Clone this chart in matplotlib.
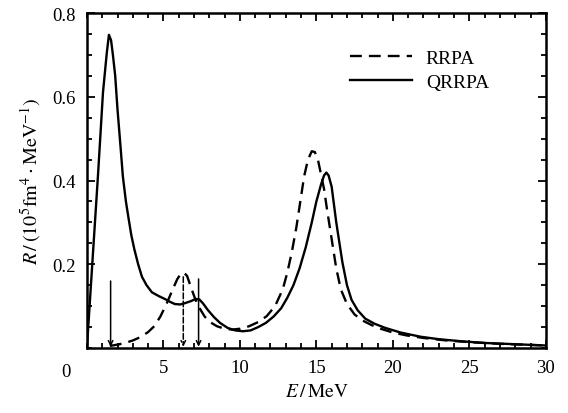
import matplotlib
matplotlib.use("Agg")
import matplotlib.pyplot as plt
from matplotlib.ticker import MultipleLocator

plt.rcParams["font.family"] = ["Liberation Serif", "DejaVu Serif"]
plt.rcParams["mathtext.fontset"] = "stix"

# QRRPA (solid)
qrrpa_e = [0.0, 0.35, 0.72, 1.05, 1.3, 1.44, 1.58, 1.7, 1.85, 2.0, 2.2, 2.35, 2.55,
           2.7, 2.9, 3.1, 3.35, 3.6, 3.9, 4.25, 4.7, 5.1, 5.45, 5.75, 6.1, 6.4, 6.8,
           7.1, 7.35, 7.6, 7.9, 8.3, 8.7, 9.2, 9.7, 10.2, 10.7, 11.2, 11.7, 12.2,
           12.7, 13.1, 13.5, 13.9, 14.3, 14.7, 15.0, 15.3, 15.5, 15.65, 15.8, 16.0,
           16.3, 16.7, 17.0, 17.3, 17.7, 18.2, 18.8, 19.5, 20.5, 21.8, 23.0, 24.5,
           26.0, 28.0, 30.0]
qrrpa_r = [0.0, 0.2, 0.41, 0.61, 0.705, 0.748, 0.735, 0.70, 0.65, 0.57, 0.48, 0.41,
           0.35, 0.315, 0.27, 0.236, 0.2, 0.17, 0.15, 0.133, 0.124, 0.117, 0.11, 0.105,
           0.104, 0.107, 0.112, 0.117, 0.116, 0.106, 0.091, 0.074, 0.06, 0.048, 0.042,
           0.04, 0.042, 0.05, 0.06, 0.075, 0.095, 0.12, 0.15, 0.19, 0.24, 0.30, 0.35,
           0.39, 0.412, 0.419, 0.412, 0.385, 0.30, 0.205, 0.15, 0.115, 0.09, 0.07,
           0.058, 0.048, 0.037, 0.027, 0.021, 0.016, 0.012, 0.009, 0.006]

# RRPA (dashed)
rrpa_e = [1.5, 2.0, 2.5, 3.0, 3.5, 4.0, 4.4, 4.8, 5.2, 5.55, 5.9, 6.15, 6.35, 6.55,
          6.85, 7.1, 7.4, 7.7, 8.0, 8.5, 9.0, 9.5, 10.0, 10.6, 11.2, 11.75, 12.3,
          12.8, 13.1, 13.4, 13.7, 13.95, 14.2, 14.45, 14.7, 14.9, 15.1, 15.3, 15.5,
          15.7, 16.0, 16.3, 16.6, 17.0, 17.5, 18.0, 18.6, 19.2, 20.0, 20.9, 22.0,
          23.5, 25.0, 27.0, 30.0]
rrpa_r = [0.005, 0.008, 0.012, 0.018, 0.026, 0.038, 0.052, 0.075, 0.105, 0.135, 0.164,
          0.178, 0.18, 0.172, 0.14, 0.115, 0.093, 0.075, 0.063, 0.052, 0.046, 0.044,
          0.046, 0.052, 0.062, 0.076, 0.1, 0.14, 0.18, 0.23, 0.29, 0.35, 0.41, 0.45,
          0.47, 0.468, 0.45, 0.415, 0.38, 0.33, 0.26, 0.19, 0.14, 0.105, 0.08, 0.066,
          0.055, 0.046, 0.037, 0.03, 0.024, 0.018, 0.014, 0.01, 0.006]

# vertical arrows (position, top, style)
arrow_e = [1.55, 6.3, 7.3]
arrow_top = [0.16, 0.17, 0.165]
arrow_style = ["-", "--", "-"]

fig = plt.figure(figsize=(5.68, 4.14), dpi=100)
ax = fig.add_axes([0.153, 0.157, 0.808, 0.809])

ax.plot(rrpa_e, rrpa_r, color="black", linestyle=(0, (5, 3)), linewidth=1.7, label="RRPA")
ax.plot(qrrpa_e, qrrpa_r, color="black", linestyle="-", linewidth=1.7, label="QRRPA")

for e, top, ls in zip(arrow_e, arrow_top, arrow_style):
    ax.annotate(
        "",
        xy=(e, 0.003),
        xytext=(e, top),
        arrowprops=dict(arrowstyle="->", color="black", linewidth=1.1,
                        linestyle=ls, shrinkA=0, shrinkB=0,
                        mutation_scale=8),
    )

ax.set_xlim(0, 30)
ax.set_ylim(0, 0.8)
ax.set_xticks([5, 10, 15, 20, 25, 30])
ax.set_yticks([0.2, 0.4, 0.6, 0.8])
ax.set_yticklabels(["0.2", "0.4", "0.6", "0.8"])
ax.xaxis.set_minor_locator(MultipleLocator(1))
ax.yaxis.set_minor_locator(MultipleLocator(0.05))
ax.tick_params(which="both", direction="in", top=True, right=True, labelsize=13.5, width=1.3)
ax.tick_params(which="major", length=6, pad=8)
ax.tick_params(which="minor", length=3.5)
for sp in ax.spines.values():
    sp.set_linewidth(1.8)

ax.text(-1.4, -0.036, "0", fontsize=13.5, ha="center", va="top")

ax.set_xlabel(r"$E\,/\,\mathrm{MeV}$", fontsize=14, labelpad=5)
ax.set_ylabel(r"$R\,/\,(10^5\mathrm{fm}^4\cdot\mathrm{MeV}^{-1})$", fontsize=14.5, labelpad=6)

ax.legend(loc="upper left", bbox_to_anchor=(0.535, 0.945), frameon=False, fontsize=14,
          handlelength=3.2, labelspacing=0.35, handletextpad=0.7)

fig.savefig("out.png", dpi=100)
